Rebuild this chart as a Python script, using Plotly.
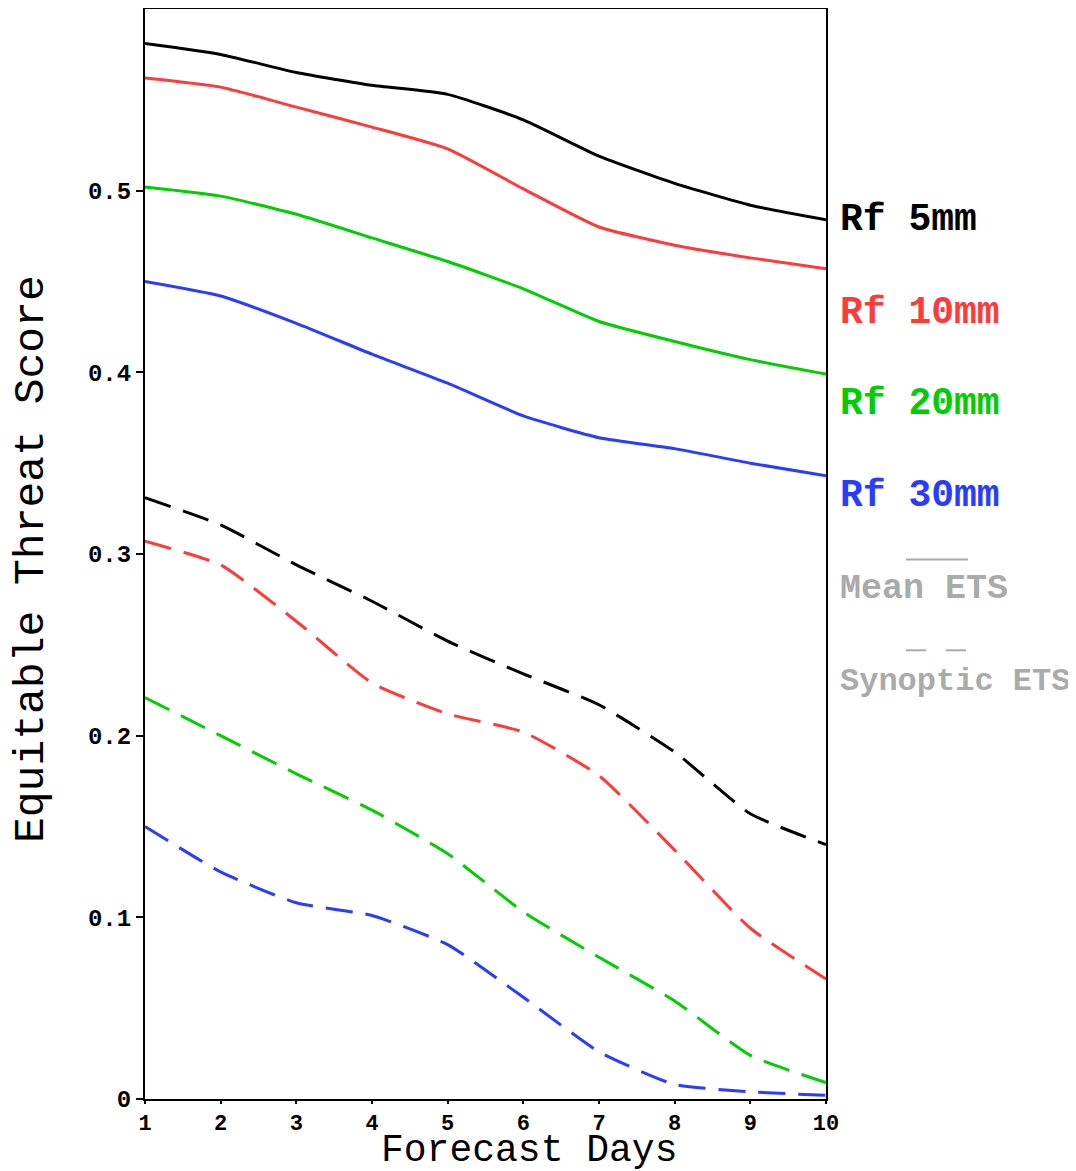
import plotly.graph_objects as go

days = [1, 2, 3, 4, 5, 6, 7, 8, 9, 10]

mean_5mm = [0.581, 0.575, 0.565, 0.558, 0.553, 0.539, 0.519, 0.504, 0.492, 0.484]
mean_10mm = [0.562, 0.557, 0.546, 0.535, 0.523, 0.501, 0.480, 0.470, 0.463, 0.457]
mean_20mm = [0.502, 0.497, 0.487, 0.474, 0.461, 0.446, 0.428, 0.417, 0.407, 0.399]
mean_30mm = [0.450, 0.442, 0.427, 0.410, 0.394, 0.376, 0.364, 0.358, 0.350, 0.343]

syn_5mm = [0.331, 0.316, 0.294, 0.274, 0.252, 0.234, 0.217, 0.191, 0.157, 0.140]
syn_10mm = [0.307, 0.294, 0.263, 0.229, 0.212, 0.202, 0.178, 0.137, 0.094, 0.066]
syn_20mm = [0.221, 0.200, 0.179, 0.159, 0.135, 0.103, 0.078, 0.054, 0.024, 0.009]
syn_30mm = [0.150, 0.125, 0.108, 0.101, 0.085, 0.056, 0.026, 0.008, 0.004, 0.002]

series_names = ["Rf 5mm", "Rf 10mm", "Rf 20mm", "Rf 30mm"]
colors = ["#000000", "#ff3b3b", "#00cc00", "#2a3cff"]
y_ticks = [0, 0.1, 0.2, 0.3, 0.4, 0.5]
y_tick_text = ["0", "0.1", "0.2", "0.3", "0.4", "0.5"]

mean_series = [mean_5mm, mean_10mm, mean_20mm, mean_30mm]
syn_series = [syn_5mm, syn_10mm, syn_20mm, syn_30mm]

fig = go.Figure()
for name, col, ys in zip(series_names, colors, mean_series):
    fig.add_trace(go.Scatter(x=days, y=ys, mode="lines", name=name + " mean",
                             line=dict(color=col, width=3, shape="spline", smoothing=0.5),
                             showlegend=False, cliponaxis=False))
for name, col, ys in zip(series_names, colors, syn_series):
    fig.add_trace(go.Scatter(x=days, y=ys, mode="lines", name=name + " synoptic",
                             line=dict(color=col, width=3, shape="spline", smoothing=0.5,
                                       dash="27px,13px"),
                             showlegend=False, cliponaxis=False))

label_font = "Liberation Mono, Courier New, monospace"

# Right-side legend annotations
legend_y = [0.484, 0.433, 0.383, 0.332]
for name, col, yy in zip(series_names, colors, legend_y):
    fig.add_annotation(x=1.0, xref="paper", y=yy, yref="y", xanchor="left", yanchor="middle",
                       xshift=12, text="<b>" + name + "</b>", showarrow=False,
                       font=dict(family=label_font, size=38, color=col))

grey = "#aaaaaa"
fig.add_annotation(x=1.0, xref="paper", y=0.281, yref="y", xanchor="left", yanchor="middle",
                   xshift=12, text="<b>Mean ETS</b>", showarrow=False,
                   font=dict(family=label_font, size=35, color=grey))
fig.add_annotation(x=1.0, xref="paper", y=0.230, yref="y", xanchor="left", yanchor="middle",
                   xshift=12, text="<b>Synoptic ETS</b>", showarrow=False,
                   font=dict(family=label_font, size=32, color=grey))
# legend line samples
fig.add_shape(type="line", xref="paper", yref="y", x0=1.1175, x1=1.2085, y0=0.297, y1=0.297,
              line=dict(color=grey, width=2))
fig.add_shape(type="line", xref="paper", yref="y", x0=1.1175, x1=1.147, y0=0.247, y1=0.247,
              line=dict(color=grey, width=2))
fig.add_shape(type="line", xref="paper", yref="y", x0=1.176, x1=1.2055, y0=0.247, y1=0.247,
              line=dict(color=grey, width=2))

# axis titles as annotations for precise placement
fig.add_annotation(x=0.564, xref="paper", y=0, yref="paper", xanchor="center", yanchor="middle",
                   yshift=-51, text="Forecast Days", showarrow=False,
                   font=dict(family=label_font, size=38, color="black"))
fig.add_annotation(x=0, xref="paper", y=0.5, yref="paper", xanchor="center", yanchor="middle",
                   xshift=-114, yshift=-5, text="Equitable Threat Score", showarrow=False, textangle=-90,
                   font=dict(family=label_font, size=43, color="black"))

fig.update_layout(
    width=1069, height=1164,
    margin=dict(l=137, r=251, t=1, b=73, autoexpand=False),
    paper_bgcolor="white", plot_bgcolor="white",
    showlegend=False,
)
fig.update_xaxes(
    range=[1, 10], tickvals=days, ticktext=[str(d) for d in days],
    showgrid=False, zeroline=False, showline=True, mirror=True, automargin=False,
    linecolor="black", linewidth=2, ticks="outside", ticklen=3, tickwidth=2, tickcolor="black",
    tickfont=dict(family=label_font, size=22, color="black", weight="bold"),
)
fig.update_yaxes(
    range=[0, 0.6], tickvals=y_ticks, ticktext=y_tick_text,
    showgrid=False, zeroline=False, showline=True, mirror=True, automargin=False,
    linecolor="black", linewidth=2, ticks="outside", ticklen=7, tickwidth=2, tickcolor="black",
    tickfont=dict(family=label_font, size=24, color="black", weight="bold"),
)

fig.write_html("out.html")
